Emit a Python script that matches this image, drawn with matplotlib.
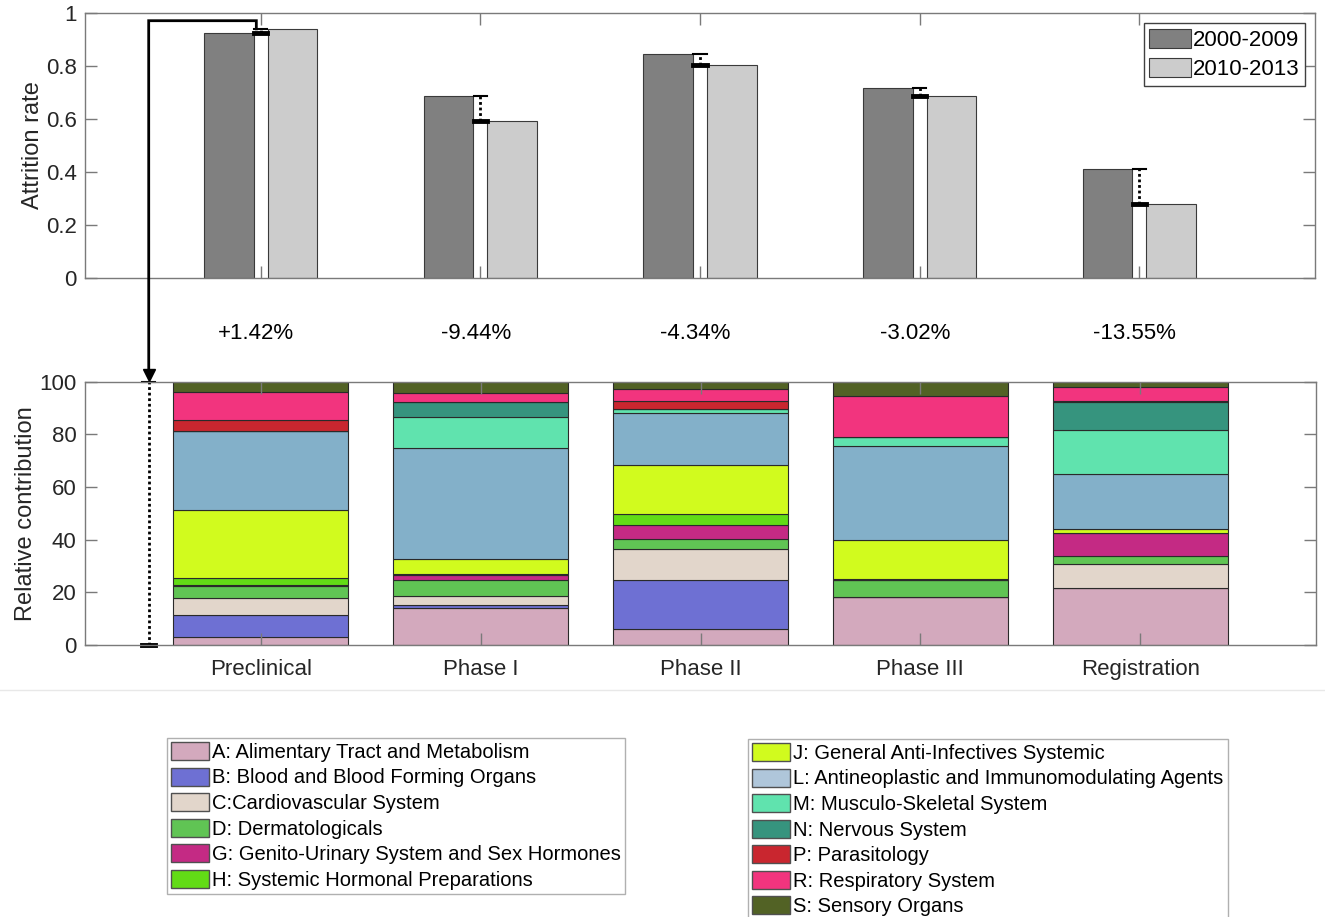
import matplotlib
matplotlib.use('Agg')
import matplotlib.pyplot as plt
from matplotlib.lines import Line2D
from matplotlib.patches import Patch

plt.rcParams['font.family'] = ['Liberation Sans', 'DejaVu Sans']

stages = ['Preclinical', 'Phase I', 'Phase II', 'Phase III', 'Registration']
periods = ['2000-2009', '2010-2013']

# attrition rate per stage, 2000-2009, and change (percentage points) for 2010-2013
rate_0009 = [0.927, 0.686, 0.846, 0.718, 0.413]
change_pct = [1.42, -9.44, -4.34, -3.02, -13.55]
rate_1013 = [r + c / 100 for r, c in zip(rate_0009, change_pct)]

# relative contribution (%) of each ATC class, per stage
alimentary = [2.9, 14.0, 6.1, 18.1, 21.6]
blood = [8.4, 1.3, 18.6, 0.0, 0.0]
cardio = [6.4, 3.3, 11.6, 0.0, 9.0]
dermato = [4.6, 6.1, 4.1, 6.4, 3.2]
genito = [0.3, 1.8, 5.1, 0.0, 8.6]
hormonal = [2.7, 0.5, 4.4, 0.4, 0.0]
antiinf = [25.9, 5.5, 18.5, 15.0, 1.5]
antineo = [30.1, 42.3, 19.6, 35.6, 21.0]
musculo = [0.0, 11.7, 1.7, 3.6, 16.7]
nervous = [0.0, 5.9, 0.0, 0.0, 10.8]
parasito = [4.2, 0.0, 3.0, 0.0, 0.3]
respir = [10.5, 3.2, 4.4, 15.5, 5.4]
sensory = [4.0, 4.4, 2.9, 5.4, 1.9]

class_labels = [
    'A: Alimentary Tract and Metabolism',
    'B: Blood and Blood Forming Organs',
    'C:Cardiovascular System',
    'D: Dermatologicals',
    'G: Genito-Urinary System and Sex Hormones',
    'H: Systemic Hormonal Preparations',
    'J: General Anti-Infectives Systemic',
    'L: Antineoplastic and Immunomodulating Agents',
    'M: Musculo-Skeletal System',
    'N: Nervous System',
    'P: Parasitology',
    'R: Respiratory System',
    'S: Sensory Organs',
]
class_values = [alimentary, blood, cardio, dermato, genito, hormonal, antiinf,
                antineo, musculo, nervous, parasito, respir, sensory]
class_colors = ['#d3a9bd', '#6e70d3', '#e2d6cb', '#60c454', '#c42a84', '#62dc16',
                '#d1fb1e', '#83b0c9', '#60e3ae', '#36947e', '#c9262f', '#f2347e',
                '#526225']
swatch_colors = list(class_colors)
swatch_colors[7] = '#afc6da'

axis_col = '#7a7a7a'
text_col = '#262626'
W, H = 1325, 917

fig = plt.figure(figsize=(W / 100, H / 100), dpi=100)
ax_top = fig.add_axes([85 / W, 1 - 277.7 / H, 1230 / W, 264.4 / H])
ax_bot = fig.add_axes([85 / W, 1 - 645 / H, 1231 / W, 263.3 / H])

xs = list(range(1, len(stages) + 1))


def style_axes(ax):
    for sp in ax.spines.values():
        sp.set_color(axis_col)
        sp.set_linewidth(1.0)
    ax.tick_params(direction='in', length=8.5, width=1.0, color=axis_col,
                   labelcolor=text_col, labelsize=16, top=True, right=True, pad=6)
    ax.set_xlim(0.2, 5.8)
    ax.set_xticks(xs)
    ax.set_axisbelow(False)


# attrition rates
style_axes(ax_top)
off, bw = 0.145, 0.225
b1 = ax_top.bar([x - off for x in xs], rate_0009, width=bw, color='#808080',
                edgecolor='#3a3a3a', linewidth=0.8, label=periods[0])
b2 = ax_top.bar([x + off for x in xs], rate_1013, width=bw, color='#cccccc',
                edgecolor='#3a3a3a', linewidth=0.8, label=periods[1])
ax_top.set_ylim(0, 1)
ax_top.set_yticks([0, 0.2, 0.4, 0.6, 0.8, 1])
ax_top.set_yticklabels(['0', '0.2', '0.4', '0.6', '0.8', '1'])
ax_top.set_xticklabels([])
ax_top.set_ylabel('Attrition rate', fontsize=17, color=text_col, labelpad=1)

cap = 0.03
for x, a, b, c in zip(xs, rate_0009, rate_1013, change_pct):
    lo, hi = min(a, b), max(a, b)
    ax_top.plot([x, x], [lo, hi], color='k', lw=2, ls=(0, (1, 1)))
    ax_top.plot([x - cap, x + cap], [hi, hi], color='k', lw=1.5)
    ax_top.plot([x - cap, x + cap], [lo, lo], color='k', lw=3.5)
    ax_top.text(x - 0.02, -0.21, f'{c:+.2f}%', ha='center', va='center',
                fontsize=16, color='k', clip_on=False)

ax_top.legend(handles=[b1, b2], loc='upper right', fontsize=16, frameon=True,
              fancybox=False, edgecolor='#404040', handlelength=1.85,
              handleheight=0.95, handletextpad=0.1, borderpad=0.25,
              labelspacing=0.3, borderaxespad=0.45, framealpha=1)

# relative contribution of each class
style_axes(ax_bot)
bottom = [0.0] * len(stages)
for vals, col in zip(class_values, class_colors):
    ax_bot.bar(xs, vals, bottom=bottom, width=0.795, color=col,
               edgecolor='#2a2a2a', linewidth=0.8)
    bottom = [b + v for b, v in zip(bottom, vals)]
ax_bot.set_ylim(0, 100)
ax_bot.set_yticks([0, 20, 40, 60, 80, 100])
ax_bot.set_xticklabels(stages)
ax_bot.tick_params(axis='x', pad=10)
ax_bot.set_ylabel('Relative contribution', fontsize=17, color=text_col, labelpad=2)

ref_x = 0.49
ax_bot.plot([ref_x, ref_x], [0, 100], color='k', lw=2, ls=(0, (1, 1)), clip_on=False)
ax_bot.plot([ref_x - cap, ref_x + cap], [100, 100], color='k', lw=1.5, clip_on=False)
ax_bot.plot([ref_x - cap, ref_x + cap], [0, 0], color='k', lw=3.5, clip_on=False)

# connector from the preclinical change to the full-scale bar below
x0 = xs[0] - 0.02
pts = [ax_top.transData.transform((x0, max(rate_0009[0], rate_1013[0]))),
       ax_top.transData.transform((x0, 0.972)),
       ax_top.transData.transform((ref_x, 0.972)),
       ax_bot.transData.transform((ref_x, 102))]
pts = fig.transFigure.inverted().transform(pts)
fig.add_artist(Line2D(pts[:, 0], pts[:, 1], color='k', lw=2,
                      transform=fig.transFigure, solid_joinstyle='miter'))
ax_bot.plot(ref_x, 102.6, marker='v', ms=9, color='k', clip_on=False)

fig.add_artist(Line2D([0, 1], [1 - 690 / H] * 2, color='#e8e8e8', lw=1,
                      transform=fig.transFigure))

swatches = [Patch(facecolor=c, edgecolor='#505050', linewidth=1)
            for c in swatch_colors]
leg_kw = dict(fontsize=14.5, frameon=True, fancybox=False, edgecolor='#b0b0b0',
              handlelength=1.9, handleheight=1.0, handletextpad=0.15,
              borderpad=0.2, labelspacing=0.28, borderaxespad=0, framealpha=1)
fig.legend(swatches[:6], class_labels[:6], loc='upper left',
           bbox_to_anchor=(167 / W, 1 - 738 / H), **leg_kw)
fig.legend(swatches[6:], class_labels[6:], loc='upper left',
           bbox_to_anchor=(748 / W, 1 - 739 / H), **leg_kw)

fig.savefig('out.png', dpi=100)
